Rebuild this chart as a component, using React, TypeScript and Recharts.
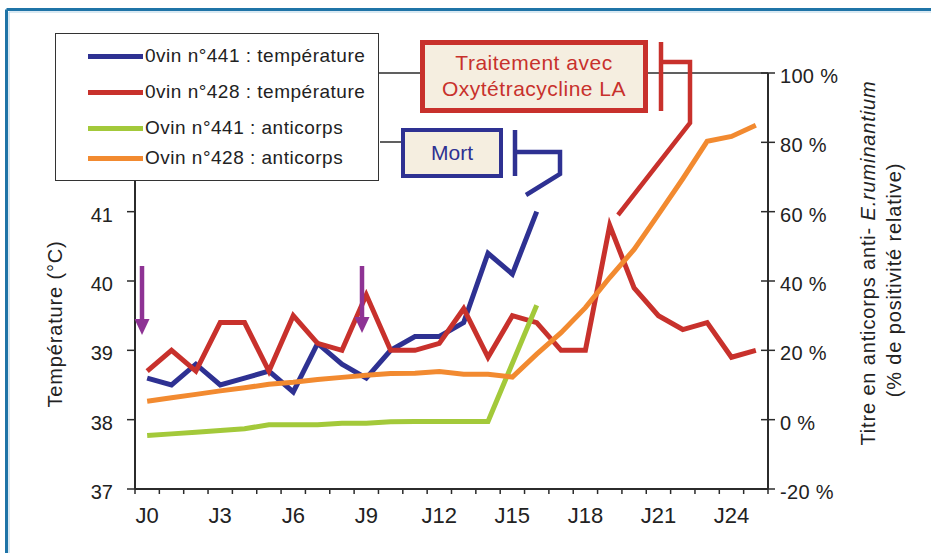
import React from 'react';
import { LineChart, Line, XAxis, YAxis, ReferenceLine } from 'recharts';

// jours J0..J25
const days = [0, 1, 2, 3, 4, 5, 6, 7, 8, 9, 10, 11, 12, 13, 14, 15, 16, 17, 18, 19, 20, 21, 22, 23, 24, 25];
const labelDays = [0, 3, 6, 9, 12, 15, 18, 21, 24];
const tempTicks = [37, 38, 39, 40, 41, 42, 43];
const pctTicks = [-20, 0, 20, 40, 60, 80, 100];

// températures (°C)
const temp441 = [38.6, 38.5, 38.8, 38.5, 38.6, 38.7, 38.4, 39.1, 38.8, 38.6, 39.0, 39.2, 39.2, 39.4, 40.4, 40.1, 41.0, null, null, null, null, null, null, null, null, null];
const temp428 = [38.7, 39.0, 38.7, 39.4, 39.4, 38.7, 39.5, 39.1, 39.0, 39.8, 39.0, 39.0, 39.1, 39.6, 38.9, 39.5, 39.4, 39.0, 39.0, 40.8, 39.9, 39.5, 39.3, 39.4, 38.9, 39.0];
// anticorps (% de positivité relative)
const anti441 = [-4.6, -4.1, -3.6, -3.1, -2.6, -1.5, -1.5, -1.5, -1.0, -1.0, -0.6, -0.5, -0.5, -0.5, -0.5, null, 33, null, null, null, null, null, null, null, null, null];
const anti428 = [5.3, 6.3, 7.3, 8.3, 9.2, 10.2, 10.8, 11.6, 12.2, 12.8, 13.3, 13.4, 13.9, 13.1, 13.1, 12.3, 18.9, 25.1, 32.3, 41, 49.1, 59.2, 69.5, 80.3, 81.7, 84.9];

const seriesNames = ['0vin n°441 : température', '0vin n°428 : température', 'Ovin n°441 : anticorps', 'Ovin n°428 : anticorps'];
const seriesColors = ['#2e3192', '#c8312c', '#a3c93a', '#f28a30'];

const data = days.map((d, i) => ({
  day: d,
  t441: temp441[i],
  t428: temp428[i],
  a441: anti441[i],
  a428: anti428[i],
}));

// ticks at every category edge plus centres (labels only on J0, J3, ...)
const xTicks: number[] = [];
for (let d = -0.5; d <= 25.5; d += 0.5) xTicks.push(d);

const FONT = '"Liberation Sans", Arial, sans-serif';
const AXIS = '#2b2b2b';

const XTick = (props: any) => {
  const { x, y, payload } = props;
  const v = payload.value;
  if (v % 1 !== 0) {
    return <line x1={x} x2={x} y1={y} y2={y + 5} stroke={AXIS} strokeWidth={1.5} />;
  }
  if (!labelDays.includes(v)) return null;
  return (
    <text x={x} y={y + 34} textAnchor="middle" fontSize={22} fontFamily={FONT} fill="#222">
      {'J' + v}
    </text>
  );
};

const LeftTick = (props: any) => {
  const { x, y, payload } = props;
  return (
    <g>
      <line x1={x - 8} x2={x} y1={y} y2={y} stroke={AXIS} strokeWidth={1.5} />
      <text x={x - 22} y={y + 10} textAnchor="end" fontSize={20} fontFamily={FONT} fill="#222">
        {payload.value}
      </text>
    </g>
  );
};

const RightTick = (props: any) => {
  const { x, y, payload } = props;
  return (
    <g>
      <line x1={x - 7} x2={x + 7} y1={y} y2={y} stroke={AXIS} strokeWidth={1.5} />
      <text x={x + 12} y={y + 10} textAnchor="start" fontSize={20} fontFamily={FONT} fill="#222" letterSpacing={0.3}>
        {payload.value + ' %'}
      </text>
    </g>
  );
};

const red = '#c8312c';
const blue = '#2e3192';
const purple = '#8e3394';

export default function App() {
  return (
    <div style={{ position: 'absolute', left: 0, top: 0, width: 931, height: 553, background: '#fff', overflow: 'hidden', fontFamily: FONT }}>
      <LineChart width={931} height={553} data={data} margin={{ top: 73, right: 103, bottom: 24, left: 75 }}>
        <XAxis
          dataKey="day"
          type="number"
          domain={[-0.5, 25.5]}
          ticks={xTicks}
          interval={0}
          tickLine={false}
          tickSize={0}
          tickMargin={0}
          tick={<XTick />}
          height={40}
          stroke={AXIS}
          strokeWidth={2}
        />
        <YAxis
          yAxisId="left"
          domain={[37, 43]}
          ticks={tempTicks}
          interval={0}
          tickLine={false}
          tickSize={0}
          tickMargin={0}
          tick={<LeftTick />}
          width={60}
          stroke={AXIS}
          strokeWidth={2}
        />
        <YAxis
          yAxisId="right"
          orientation="right"
          domain={[-20, 100]}
          ticks={pctTicks}
          interval={0}
          tickLine={false}
          tickSize={0}
          tickMargin={0}
          tick={<RightTick />}
          width={60}
          stroke={AXIS}
          strokeWidth={2}
        />
        <ReferenceLine yAxisId="left" y={43} stroke={AXIS} strokeWidth={1.5} />
        <Line yAxisId="left" type="linear" dataKey="t441" stroke={seriesColors[0]} strokeWidth={5} dot={false} isAnimationActive={false} />
        <Line yAxisId="left" type="linear" dataKey="t428" stroke={seriesColors[1]} strokeWidth={5} dot={false} isAnimationActive={false} />
        <Line yAxisId="right" type="linear" dataKey="a441" stroke={seriesColors[2]} strokeWidth={5} dot={false} connectNulls isAnimationActive={false} />
        <Line yAxisId="right" type="linear" dataKey="a428" stroke={seriesColors[3]} strokeWidth={5} dot={false} isAnimationActive={false} />
      </LineChart>

      {/* annotations, titres, cadre */}
      <svg width={931} height={553} style={{ position: 'absolute', left: 0, top: 0, pointerEvents: 'none' }}>
        <line x1={6.5} x2={931} y1={9.5} y2={9.5} stroke="#1f74a7" strokeWidth={3} />
        <line x1={6.5} x2={6.5} y1={9.5} y2={553} stroke="#1f74a7" strokeWidth={3} />
        <line x1={9} x2={931} y1={12} y2={12} stroke="#b4d3e6" strokeWidth={1} />
        <line x1={9} x2={9} y1={12} y2={553} stroke="#b4d3e6" strokeWidth={1} />

        <line x1={380} x2={401} y1={142} y2={142} stroke={AXIS} strokeWidth={1.5} />

        {/* crochet rouge */}
        <polyline points="661,42 661,111" fill="none" stroke={red} strokeWidth={4.5} />
        <polyline points="661,62 690,62 690,123 618,215" fill="none" stroke={red} strokeWidth={4.5} strokeLinejoin="miter" />
        {/* crochet bleu */}
        <polyline points="515,130 515,176" fill="none" stroke={blue} strokeWidth={4.5} />
        <polyline points="515,152 560,152 560,174 526,195" fill="none" stroke={blue} strokeWidth={4.5} strokeLinejoin="miter" />

        {/* flèches */}
        <line x1={142} x2={142} y1={266} y2={321} stroke={purple} strokeWidth={4.5} />
        <polygon points="134.5,319 149.5,319 142,335" fill={purple} />
        <line x1={362} x2={362} y1={266} y2={319} stroke={purple} strokeWidth={4.5} />
        <polygon points="354.5,317 369.5,317 362,333" fill={purple} />

        <text x={62} y={324} transform="rotate(-90 62 324)" textAnchor="middle" fontSize={20} fontFamily={FONT} fill="#222" letterSpacing={0.85}>
          Température (°C)
        </text>
        <text x={875} y={263} transform="rotate(-90 875 263)" textAnchor="middle" fontSize={20} fontFamily={FONT} fill="#222" letterSpacing={0.85}>
          Titre en anticorps anti- <tspan fontStyle="italic">E.ruminantium</tspan>
        </text>
        <text x={901} y={280} transform="rotate(-90 901 280)" textAnchor="middle" fontSize={20} fontFamily={FONT} fill="#222" letterSpacing={0.85}>
          (% de positivité relative)
        </text>
      </svg>

      {/* légende */}
      <div style={{ position: 'absolute', left: 55, top: 33, width: 324, height: 148, background: '#fff', border: '1.5px solid #333', boxSizing: 'border-box' }}>
        {seriesNames.map((name, i) => (
          <div key={name} style={{ position: 'absolute', left: 32, top: [22, 58, 94, 124][i] - 12, height: 24, display: 'flex', alignItems: 'center' }}>
            <div style={{ width: 55, height: 5, background: seriesColors[i] }} />
            <span style={{ fontSize: 19, letterSpacing: 0.5, color: '#222', marginLeft: 2, whiteSpace: 'nowrap' }}>{name}</span>
          </div>
        ))}
      </div>

      {/* boîtes */}
      <div style={{ position: 'absolute', left: 420, top: 40, width: 228, height: 73, boxSizing: 'border-box', border: `5px solid ${red}`, background: '#f5eee0', color: red, fontSize: 21, letterSpacing: 0.5, textAlign: 'center', lineHeight: '26px', paddingTop: 5 }}>
        Traitement avec<br />Oxytétracycline LA
      </div>
      <div style={{ position: 'absolute', left: 401, top: 128, width: 102, height: 50, boxSizing: 'border-box', border: `4.5px solid ${blue}`, background: '#f5eee0', color: blue, fontSize: 21, textAlign: 'center', lineHeight: '41px' }}>
        Mort
      </div>
    </div>
  );
}
